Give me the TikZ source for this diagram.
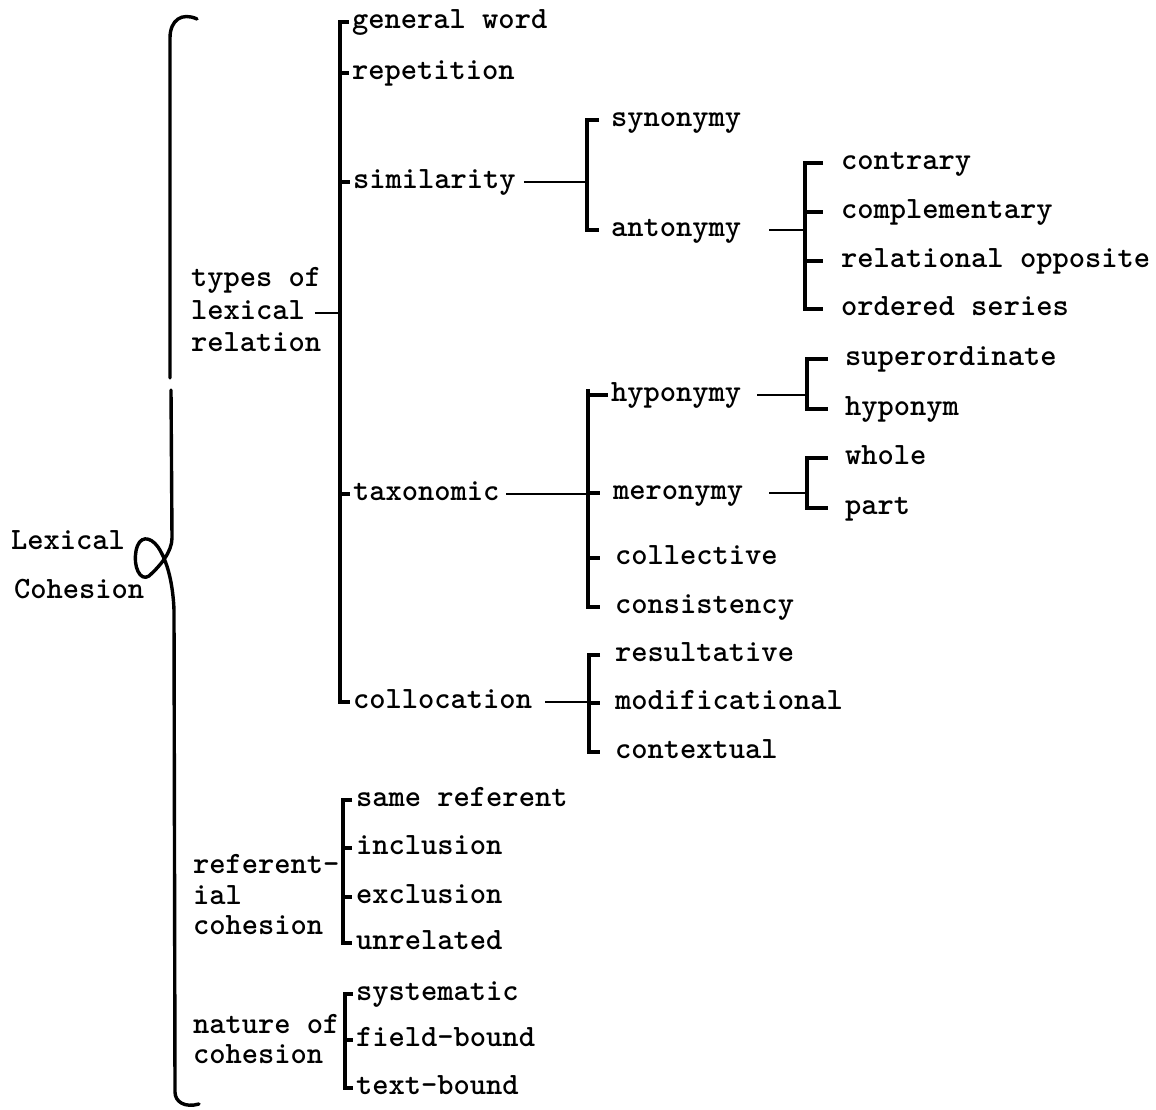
\documentclass[tikz,border=0pt]{standalone}
\usepackage{fontspec}
\begin{document}
\begin{tikzpicture}[x=1pt,y=-1pt,
  lbl/.style={anchor=west, inner sep=0pt, outer ysep=0pt, outer xsep=#1,
    font=\ttfamily\bfseries\fontsize{31}{31}\selectfont,
    text height=13.3pt, text depth=0pt},
  lbl/.default=1pt,
  bar/.style={line width=3.3pt, line cap=butt, line join=miter},
  link/.style={line width=2pt},
  brace/.style={line width=3.4pt, line cap=round},
]
\useasboundingbox (0,0) rectangle (1156,1110);

% root
\node[lbl] (lex) at (10,543) {Lexical};
\node[lbl] (coh) at (13,592) {Cohesion};

% first-level systems
\node[lbl] (ty1) at (190,280) {types of};
\node[lbl] (ty2) at (190,313) {lexical};
\node[lbl] (ty3) at (190,345) {relation};
\node[lbl] (rf1) at (192,867) {referent-};
\node[lbl] (rf2) at (192,898) {ial};
\node[lbl] (rf3) at (192,928) {cohesion};
\node[lbl] (na1) at (192,1027) {nature of};
\node[lbl] (na2) at (192,1057) {cohesion};

% types of lexical relation
\coordinate (T) at (340,0);
\node[lbl=3pt] (gw)  at (349,22)  {general word};
\node[lbl=3pt] (rep) at (349,73)  {repetition};
\node[lbl=3pt] (sim) at (350,182) {similarity};
\node[lbl=3pt] (tax) at (350,494) {taxonomic};
\node[lbl=3pt] (col) at (350,702) {collocation};

% similarity
\coordinate (S) at (587,0);
\node[lbl=12pt] (syn) at (599,120) {synonymy};
\node[lbl=12pt] (ant) at (599,230) {antonymy};

% antonymy
\coordinate (A) at (805,0);
\node[lbl=18pt] (ctr) at (823,163) {contrary};
\node[lbl=18pt] (cmp) at (823,212) {complementary};
\node[lbl=18pt] (rel) at (823,261) {relational opposite};
\node[lbl=18pt] (ord) at (823,309) {ordered series};

% taxonomic
\coordinate (X) at (588,0);
\node[lbl=3pt]  (hyy) at (608,395) {hyponymy};
\node[lbl=13pt] (mer) at (600,493) {meronymy};
\node[lbl=15pt] (cll) at (600,558) {collective};
\node[lbl=15pt] (cns) at (600,607) {consistency};

% hyponymy and meronymy
\coordinate (H) at (807,0);
\node[lbl=17pt] (sup) at (828,359) {superordinate};
\node[lbl=17pt] (hyp) at (828,409) {hyponym};
\node[lbl=17pt] (who) at (828,458) {whole};
\node[lbl=17pt] (prt) at (828,508) {part};

% collocation
\coordinate (C) at (589,0);
\node[lbl=15pt] (res) at (600,655) {resultative};
\node[lbl=15pt] (mod) at (600,703) {modificational};
\node[lbl=15pt] (ctx) at (600,752) {contextual};

% referential cohesion
\coordinate (R) at (343,0);
\node[lbl=4pt] (sam) at (352,800) {same referent};
\node[lbl=4pt] (inc) at (352,848) {inclusion};
\node[lbl=4pt] (exc) at (352,897) {exclusion};
\node[lbl=4pt] (unr) at (352,943) {unrelated};

% nature of cohesion
\coordinate (N) at (345,0);
\node[lbl=3pt] (sys) at (353,994)  {systematic};
\node[lbl=3pt] (fld) at (353,1040) {field-bound};
\node[lbl=3pt] (txt) at (353,1088) {text-bound};

% the big brace with its loop
\draw[brace] (197,19) .. controls (182,12) and (170,20) .. (170,38) -- (170,378);
\draw[brace] (171,390) -- (172,538)
  .. controls (172,552) and (160,566) .. (149,576)
  .. controls (140,582) and (133,566) .. (136,551)
  .. controls (139,535) and (150,536) .. (158,547)
  .. controls (168,562) and (173,585) .. (174,610)
  -- (175,1092) .. controls (175,1102) and (185,1108) .. (199,1104);

% types of lexical relation bracket
\draw[bar] (gw.west) -- (gw.west -| T) -- (col.west -| T) -- (col.west);
\draw[bar] (rep.west -| T) -- (rep.west);
\draw[bar] (sim.west -| T) -- (sim.west);
\draw[bar] (tax.west -| T) -- (tax.west);
\draw[link] ([xshift=9pt]ty2.east) -- (ty2.east -| T);

% similarity bracket
\draw[link] ([xshift=5pt]sim.east) -- (sim.east -| S);
\draw[bar] (syn.west) -- (syn.west -| S) -- (ant.west -| S) -- (ant.west);

% antonymy bracket
\draw[link] ([xshift=16pt]ant.east) -- (ant.east -| A);
\draw[bar] (ctr.west) -- (ctr.west -| A) -- (ord.west -| A) -- (ord.west);
\draw[bar] (cmp.west -| A) -- (cmp.west);
\draw[bar] (rel.west -| A) -- (rel.west);

% taxonomic bracket
\draw[link] ([xshift=4pt]tax.east) -- (tax.east -| X);
\draw[bar] ([yshift=6pt]hyy.west -| X) -- (cns.west -| X) -- (cns.west);
\draw[bar] (hyy.west -| X) -- (hyy.west);
\draw[bar] (mer.west -| X) -- (mer.west);
\draw[bar] (cll.west -| X) -- (cll.west);

% hyponymy bracket
\draw[link] ([xshift=13pt]hyy.east) -- (hyy.east -| H);
\draw[bar] (sup.west) -- (sup.west -| H) -- (hyp.west -| H) -- (hyp.west);

% meronymy bracket
\draw[link] ([xshift=13pt]mer.east) -- (mer.east -| H);
\draw[bar] (who.west) -- (who.west -| H) -- (prt.west -| H) -- (prt.west);

% collocation bracket
\draw[link] ([xshift=10pt]col.east) -- (col.east -| C);
\draw[bar] (res.west) -- (res.west -| C) -- (ctx.west -| C) -- (ctx.west);
\draw[bar] (mod.west -| C) -- (mod.west);

% referential cohesion bracket
\draw[bar] (sam.west) -- (sam.west -| R) -- (unr.west -| R) -- (unr.west);
\draw[bar] (inc.west -| R) -- (inc.west);
\draw[bar] (exc.west -| R) -- (exc.west);

% nature of cohesion bracket
\draw[bar] (sys.west) -- (sys.west -| N) -- (txt.west -| N) -- (txt.west);
\draw[bar] (fld.west -| N) -- (fld.west);
\end{tikzpicture}
\end{document}
